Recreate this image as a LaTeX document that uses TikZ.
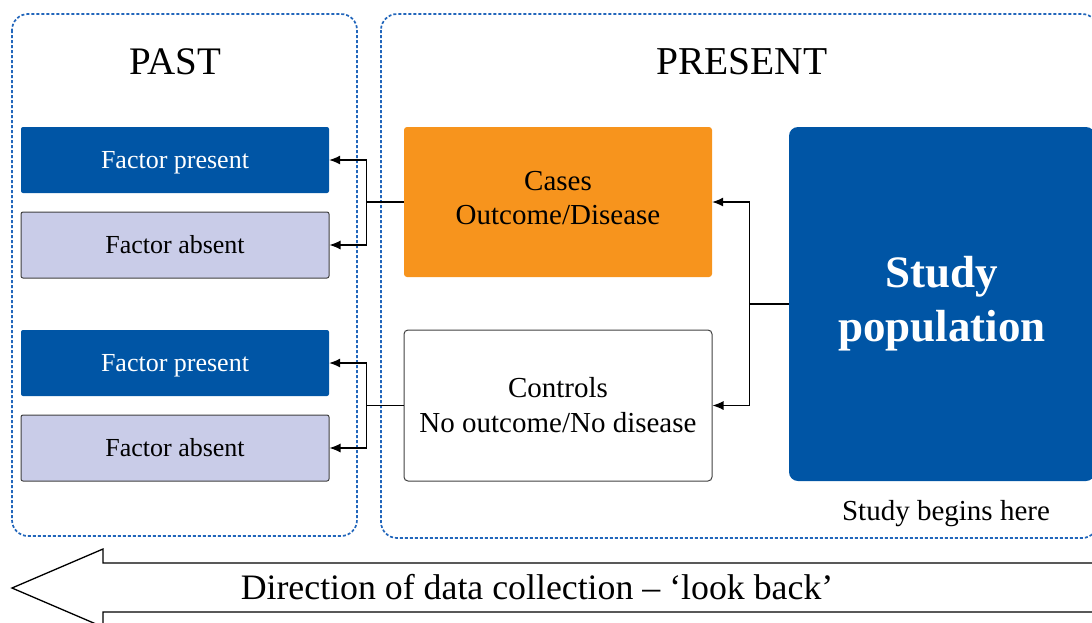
\documentclass[tikz,border=0pt]{standalone}
\usepackage{fontspec}
\setmainfont{Liberation Serif}
\usetikzlibrary{arrows.meta}
\definecolor{dblue}{HTML}{0055A5}
\definecolor{dashblue}{HTML}{2266BB}
\definecolor{orng}{HTML}{F7941D}
\definecolor{lav}{HTML}{C9CCE8}
\definecolor{dgray}{HTML}{404040}
\tikzset{
  frame/.style={draw=dashblue, line width=1.7pt, dash pattern=on 3pt off 2pt, rounded corners=16pt},
  fbox/.style={minimum width=308pt, minimum height=66pt, inner sep=0pt, rounded corners=2pt,
               text height=17.8pt, text depth=0pt, font=\fontsize{26}{30}\selectfont},
  fpres/.style={fbox, fill=dblue, text=white},
  fabs/.style={fbox, fill=lav, draw=dgray, line width=1pt},
  arr/.style={line width=1.1pt, -{Latex[length=11pt,width=9pt]}},
  ln/.style={line width=1.1pt},
}
\begin{document}
\begin{tikzpicture}[x=1pt,y=-1pt]
\useasboundingbox (0,0) rectangle (1092,622);
\clip (0,0) rectangle (1092,622);
% frames
\draw[frame] (12,14) rectangle (357,536);
\draw[frame] (381,14) rectangle (1098,538);
\node[font=\fontsize{39}{42}\selectfont] (past) at (175,62) {PAST};
\node[font=\fontsize{39.5}{42}\selectfont] (present) at (742,62) {PRESENT};
% factor boxes
\node[fpres] (fp1) at (175,160) {Factor present};
\node[fabs]  (fa1) at (175,245) {Factor absent};
\node[fpres] (fp2) at (175,363) {Factor present};
\node[fabs]  (fa2) at (175,448) {Factor absent};
% cases / controls
\node[fill=orng, rounded corners=3pt, minimum width=308pt, minimum height=150pt, inner sep=0pt,
      label={[align=center, font=\fontsize{29}{34}\selectfont, yshift=4pt]center:{Cases\\Outcome/Disease}}] (cases) at (558,202) {};
\node[draw=dgray, line width=1pt, rounded corners=4pt, minimum width=308pt, minimum height=151pt, inner sep=0pt,
      align=center, font=\fontsize{29}{35}\selectfont] (controls) at (558,405.5) {Controls\\No outcome/No disease};
% study population
\node[fill=dblue, text=white, rounded corners=9pt, minimum width=306pt, minimum height=354pt, inner sep=0pt,
      align=center, font=\fontsize{45}{54}\selectfont\bfseries] (study) at (942,304) {Study\\population};
\node[font=\fontsize{29}{32}\selectfont] (begins) at (946,514) {Study begins here};
% connectors
\draw[ln] (study.west) -- ++(-39,0) coordinate (js);
\draw[arr] (js) |- (cases.east);
\draw[arr] (js) |- (controls.east);
\draw[ln] (cases.west) -- ++(-37,0) coordinate (jc);
\draw[arr] (jc) |- (fp1.east);
\draw[arr] (jc) |- (fa1.east);
\draw[ln] (controls.west) -- ++(-37,0) coordinate (jk);
\draw[arr] (jk) |- (fp2.east);
\draw[arr] (jk) |- (fa2.east);
% big arrow
\draw[line width=1.3pt, fill=white] (1110,563) -- (103,563) -- (103,549) -- (12,588) -- (103,627) -- (103,612) -- (1110,612);
\node[font=\fontsize{35.8}{38}\selectfont] (dir) at (537,587) {Direction of data collection – ‘look back’};
\end{tikzpicture}
\end{document}
